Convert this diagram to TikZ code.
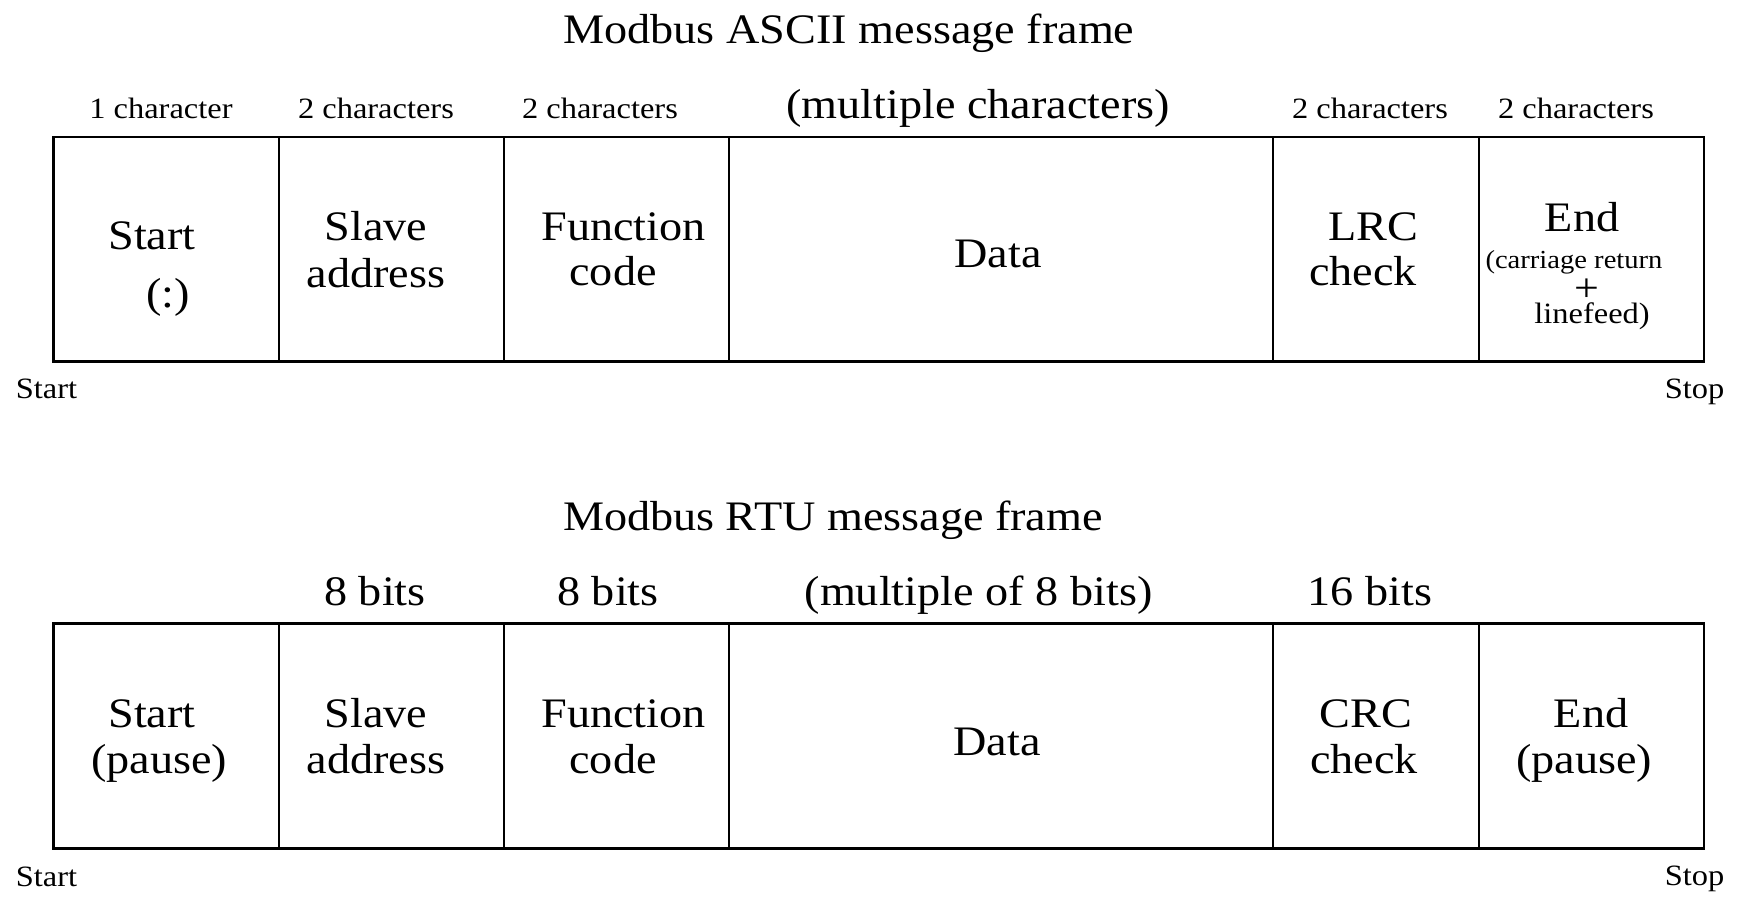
\documentclass[tikz,border=0pt]{standalone}
\usepackage{fontspec}
\setmainfont[FakeStretch=1.1]{Liberation Serif}
\begin{document}
\begin{tikzpicture}[x=1pt,y=-1pt,
  cell/.style={draw, line width=2.8pt, rectangle, inner sep=0pt, outer sep=0pt, anchor=north west},
  big/.style={font=\fontsize{42}{46}\selectfont, anchor=base, inner sep=0pt},
  small/.style={font=\fontsize{29.5}{32}\selectfont, anchor=base, inner sep=0pt},
  tiny/.style={font=\fontsize{26}{28}\selectfont, anchor=base, inner sep=0pt}]
\useasboundingbox (0,0) rectangle (1746,908);

% ---------- ASCII frame ----------
\node[big] (t1) at (849,43) {Modbus ASCII message frame};

\node[small] (l11) at (161,118) {1 character};
\node[small] (l12) at (376,118) {2 characters};
\node[small] (l13) at (600,118) {2 characters};
\node[big]   (l14) at (978,118) {(multiple characters)};
\node[small] (l15) at (1370,118) {2 characters};
\node[small] (l16) at (1576,118) {2 characters};

\node[cell, minimum width=225.5pt, minimum height=224.5pt] (a1) at (53.5,137) {};
\node[cell, minimum width=225pt,   minimum height=224.5pt] (a2) at (279,137) {};
\node[cell, minimum width=225pt,   minimum height=224.5pt] (a3) at (504,137) {};
\node[cell, minimum width=544pt,   minimum height=224.5pt] (a4) at (729,137) {};
\node[cell, minimum width=206pt,   minimum height=224.5pt] (a5) at (1273,137) {};
\node[cell, minimum width=225pt,   minimum height=224.5pt] (a6) at (1479,137) {};

\node[big] (a1t) at (152,249) {Start};
\node[big] (a1b) at (168,307) {(:)};
\node[big] (a2t) at (376,240) {Slave};
\node[big] (a2b) at (376,287) {address};
\node[big] (a3t) at (623.5,240) {Function};
\node[big] (a3b) at (613,285) {code};
\node[big] (a4t) at (998,267) {Data};
\node[big] (a5t) at (1373,240) {LRC};
\node[big] (a5b) at (1363,285) {check};
\node[big] (a6t) at (1582,231) {End};
\node[tiny] (a6m) at (1574,268) {(carriage return};
\node[small] (a6b) at (1592,323) {linefeed)};
\node[font=\fontsize{40}{44}\selectfont, inner sep=0pt, anchor=center] (a6p) at (1587,290) {+};

\node[small] (s1) at (46.5,398) {Start};
\node[small] (e1) at (1694.5,398) {Stop};

% ---------- RTU frame ----------
\node[big] (t2) at (833,530) {Modbus RTU message frame};

\node[big] (l22) at (375,605) {8 bits};
\node[big] (l23) at (608,605) {8 bits};
\node[big] (l24) at (978.5,605) {(multiple of 8 bits)};
\node[big] (l25) at (1370,605) {16 bits};

\node[cell, minimum width=225.5pt, minimum height=225pt] (b1) at (53.5,623.5) {};
\node[cell, minimum width=225pt,   minimum height=225pt] (b2) at (279,623.5) {};
\node[cell, minimum width=225pt,   minimum height=225pt] (b3) at (504,623.5) {};
\node[cell, minimum width=544pt,   minimum height=225pt] (b4) at (729,623.5) {};
\node[cell, minimum width=206pt,   minimum height=225pt] (b5) at (1273,623.5) {};
\node[cell, minimum width=225pt,   minimum height=225pt] (b6) at (1479,623.5) {};

\node[big] (b1t) at (152,727) {Start};
\node[big] (b1b) at (159,773) {(pause)};
\node[big] (b2t) at (376,727) {Slave};
\node[big] (b2b) at (376,773) {address};
\node[big] (b3t) at (623.5,727) {Function};
\node[big] (b3b) at (613,773) {code};
\node[big] (b4t) at (997,755) {Data};
\node[big] (b5t) at (1366,727) {CRC};
\node[big] (b5b) at (1364,773) {check};
\node[big] (b6t) at (1591,727) {End};
\node[big] (b6b) at (1584,773) {(pause)};

\node[small] (s2) at (46.5,886) {Start};
\node[small] (e2) at (1694.5,885) {Stop};
\end{tikzpicture}
\end{document}
